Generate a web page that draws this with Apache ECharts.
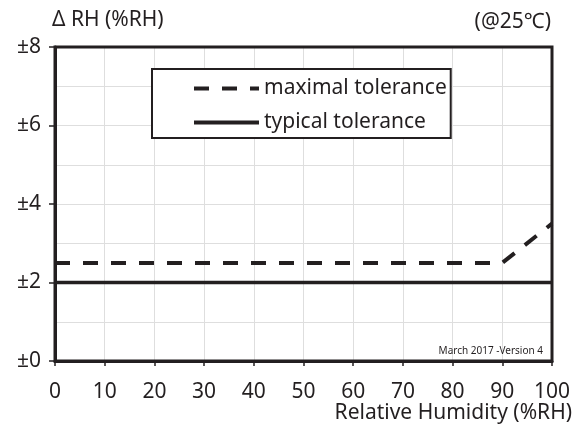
<!DOCTYPE html>
<html><head><meta charset="utf-8">
<script src="https://cdn.jsdelivr.net/npm/echarts@6/dist/echarts.min.js"></script>
<style>html,body{margin:0;padding:0;background:#fff}#c{width:574px;height:428px}</style>
</head><body><div id="c"></div>
<script>
const humidity = [0, 10, 20, 30, 40, 50, 60, 70, 80, 90, 100];
const maximalTolerance = [2.5, 2.5, 2.5, 2.5, 2.5, 2.5, 2.5, 2.5, 2.5, 2.5, 3.5];
const typicalTolerance = [2, 2, 2, 2, 2, 2, 2, 2, 2, 2, 2];
const yTicks = [0, 2, 4, 6, 8];

const ink = '#231f20';
const font = 'Noto Sans';
const fs = 21;
const chart = echarts.init(document.getElementById('c'));
chart.setOption({
  animation: false,
  textStyle: { fontFamily: font, color: ink },
  grid: { left: 55, top: 47, right: 22, bottom: 67, show: true, borderColor: ink, borderWidth: 3, z: 5 },
  title: [
    { text: 'Δ RH (%RH)', left: 52, top: 10, padding: 0, textStyle: { fontFamily: font, fontSize: fs, fontWeight: 'normal', color: ink } },
    { text: '(@25℃)', right: 23, top: 12, padding: 0, textStyle: { fontFamily: font, fontSize: fs, fontWeight: 'normal', color: ink } },
    { text: 'Relative Humidity (%RH)', right: 2, top: 403, padding: 0, textStyle: { fontFamily: font, fontSize: fs, fontWeight: 'normal', color: ink } },
    { text: 'March 2017 -Version 4', right: 31, top: 346, padding: 0, textStyle: { fontFamily: font, fontSize: 10, fontWeight: 'normal', color: ink } }
  ],
  legend: {
    orient: 'vertical', left: 152, top: 69,
    backgroundColor: '#fff', borderColor: ink, borderWidth: 2,
    padding: [9, 4, 5, 40], itemGap: 13, itemWidth: 65, itemHeight: 14,
    itemStyle: { opacity: 0 },
    textStyle: { fontFamily: font, fontSize: fs, color: ink },
    data: [
      { name: 'maximal tolerance', lineStyle: { width: 4, type: [15, 13] } },
      { name: 'typical tolerance', lineStyle: { width: 4, type: 'solid' } }
    ]
  },
  xAxis: {
    type: 'value', min: 0, max: 100, interval: 10,
    axisLine: { show: true, lineStyle: { color: ink, width: 3 } },
    axisTick: { show: true, length: 5, lineStyle: { color: ink, width: 1.5 } },
    axisLabel: { fontFamily: font, fontSize: fs, color: ink, margin: 21 },
    splitLine: { show: true, lineStyle: { color: '#dedede', width: 1 } }
  },
  yAxis: {
    type: 'value', min: 0, max: 8, interval: 2,
    axisLine: { show: true, lineStyle: { color: ink, width: 3 } },
    axisTick: { show: true, length: 6, lineStyle: { color: ink, width: 1.5 } },
    axisLabel: { fontFamily: font, fontSize: fs, color: ink, margin: 14,
      formatter: v => yTicks.includes(v) ? '±' + v : '' },
    splitLine: { show: true, lineStyle: { color: '#dedede', width: 1 } },
    minorTick: { show: false, splitNumber: 2 },
    minorSplitLine: { show: true, lineStyle: { color: '#dedede', width: 1 } }
  },
  series: [
    { name: 'maximal tolerance', type: 'line', symbol: 'none', z: 3,
      data: humidity.map((x, i) => [x, maximalTolerance[i]]),
      lineStyle: { color: ink, width: 4, type: [15, 13] }, itemStyle: { color: ink } },
    { name: 'typical tolerance', type: 'line', symbol: 'none', z: 3,
      data: humidity.map((x, i) => [x, typicalTolerance[i]]),
      lineStyle: { color: ink, width: 3.5, type: 'solid' }, itemStyle: { color: ink } }
  ]
});
</script></body></html>
